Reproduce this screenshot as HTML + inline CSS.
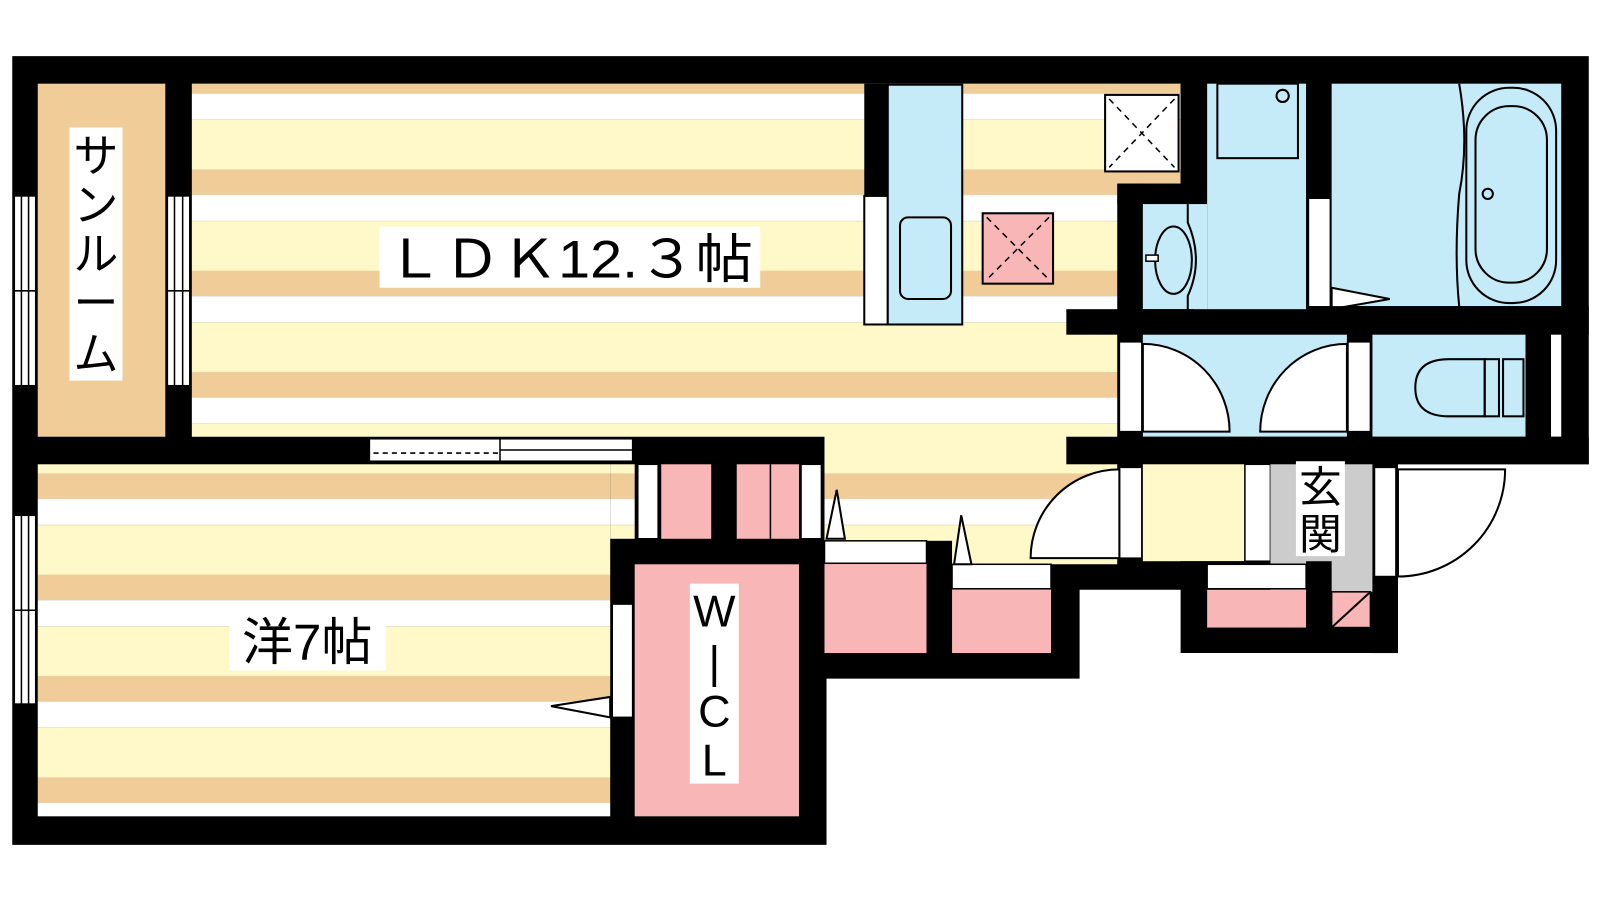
<!DOCTYPE html>
<html><head><meta charset="utf-8"><style>html,body{margin:0;padding:0;background:#fff}svg{display:block}</style></head>
<body>
<svg width="1600" height="900" viewBox="0 0 1568 882" xmlns="http://www.w3.org/2000/svg" font-family="'Liberation Sans','Noto Sans CJK JP',sans-serif">
<defs>
<pattern id="st" patternUnits="userSpaceOnUse" x="0" y="166" width="20" height="99.3">
<rect x="0" y="0" width="20" height="25" fill="#f0cd98"/>
<rect x="0" y="25" width="20" height="25.5" fill="#ffffff"/>
<rect x="0" y="50.5" width="20" height="48.8" fill="#fff9c9"/>
</pattern>
</defs>
<rect width="1568" height="882" fill="#fff"/>
<!-- building black -->
<polygon points="12,55 1557,55 1557,455 1370,455 1370,640 1157,640 1157,578 1058,578 1058,665 810,665 810,828 12,828" fill="#000"/>
<!-- sunroom -->
<rect x="37" y="82" width="125" height="346" fill="#f0cd98"/>
<!-- LDK -->
<polygon points="188,82 1157,82 1157,180 1095,180 1095,553 808,553 808,428 188,428" fill="url(#st)"/>
<!-- kitchen -->
<rect x="847" y="82" width="23" height="110" fill="#000"/>
<rect x="847" y="192" width="23" height="126" fill="#fff" stroke="#000" stroke-width="2"/>
<rect x="870" y="83" width="73" height="235" fill="#c5eaf8" stroke="#000" stroke-width="2"/>
<rect x="882" y="213" width="50" height="80" rx="8" fill="#c5eaf8" stroke="#000" stroke-width="2"/>
<rect x="1083" y="93" width="72" height="75" fill="#fff" stroke="#000" stroke-width="2"/>
<path d="M1087,97 L1151,164 M1151,97 L1087,164" stroke="#000" stroke-width="1.5" stroke-dasharray="6,5"/>
<rect x="963" y="209" width="69" height="69" fill="#f8b6b6" stroke="#000" stroke-width="2"/>
<path d="M967,213 L1028,274 M1028,213 L967,274" stroke="#000" stroke-width="1.5" stroke-dasharray="6,5"/>
<!-- bathroom walls -->
<rect x="1157" y="82" width="26" height="118" fill="#000"/>
<rect x="1095" y="180" width="88" height="20" fill="#000"/>
<rect x="1095" y="180" width="25" height="375" fill="#000"/>
<!-- washroom -->
<rect x="1183" y="82" width="97" height="221" fill="#c5eaf8"/>
<rect x="1120" y="200" width="63" height="103" fill="#c5eaf8"/>
<rect x="1193" y="82" width="79" height="73" fill="none" stroke="#000" stroke-width="2"/>
<circle cx="1257" cy="94" r="6" fill="none" stroke="#000" stroke-width="2"/>
<path d="M1164,200 L1164,218 Q1180,255 1164,290 L1164,303" fill="none" stroke="#000" stroke-width="2"/>
<ellipse cx="1150" cy="255" rx="18" ry="33" fill="none" stroke="#000" stroke-width="2"/>
<rect x="1123" y="250" width="12" height="6" fill="#fff" stroke="#000" stroke-width="1.5"/>
<rect x="1280" y="82" width="25" height="221" fill="#000"/>
<rect x="1283" y="195" width="20" height="105" fill="#fff"/>
<!-- bath -->
<rect x="1305" y="82" width="225" height="218" fill="#c5eaf8"/>
<path d="M1305,282 L1362,293 L1305,303 Z" fill="#fff" stroke="#000" stroke-width="2"/>
<path d="M1430,82 Q1440,140 1430,190 Q1425,250 1430,300" fill="none" stroke="#000" stroke-width="2"/>
<rect x="1437" y="86" width="88" height="211" rx="42" fill="none" stroke="#000" stroke-width="2"/>
<rect x="1446" y="104" width="70" height="173" rx="33" fill="none" stroke="#000" stroke-width="2"/>
<circle cx="1458" cy="190" r="5" fill="none" stroke="#000" stroke-width="2"/>
<!-- walls 303-328 -->
<rect x="1045" y="303" width="125" height="25" fill="#000"/>
<rect x="1280" y="300" width="277" height="28" fill="#000"/>
<!-- hall -->
<rect x="1120" y="328" width="200" height="100" fill="#c5eaf8"/>
<rect x="1097" y="335" width="22" height="88" fill="#fff" stroke="#000" stroke-width="1.5"/>
<path d="M1120,337 A85,86 0 0 1 1205,423 L1120,423 Z" fill="#fff" stroke="#000" stroke-width="2"/>
<rect x="1320" y="328" width="25" height="100" fill="#000"/>
<rect x="1321" y="335" width="22" height="88" fill="#fff" stroke="#000" stroke-width="1.5"/>
<path d="M1320,337 A85,86 0 0 0 1235,423 L1320,423 Z" fill="#fff" stroke="#000" stroke-width="2"/>
<!-- toilet -->
<rect x="1345" y="328" width="150" height="100" fill="#c5eaf8"/>
<rect x="1520" y="328" width="10" height="100" fill="#fff"/>
<path d="M1455,352 L1420,352 Q1387,352 1387,380 Q1387,408 1420,408 L1455,408 Z" fill="none" stroke="#000" stroke-width="2"/>
<rect x="1455" y="352" width="14" height="56" fill="none" stroke="#000" stroke-width="2"/>
<rect x="1473" y="352" width="20" height="56" fill="none" stroke="#000" stroke-width="2"/>
<rect x="1045" y="428" width="512" height="27" fill="#000"/>
<!-- entrance -->
<rect x="1097" y="458" width="22" height="89" fill="#fff" stroke="#000" stroke-width="1.5"/>
<path d="M1097,460 A87,87 0 0 0 1010,547 L1097,547 Z" fill="#fff" stroke="#000" stroke-width="2"/>
<rect x="1120" y="455" width="100" height="95" fill="#fff9c9"/>
<rect x="1220" y="455" width="25" height="95" fill="#fff" stroke="#000" stroke-width="1.5"/>
<rect x="1245" y="455" width="100" height="125" fill="#cccccc"/>
<rect x="1345" y="455" width="25" height="185" fill="#000"/>
<rect x="1347" y="458" width="21" height="107" fill="#fff" stroke="#000" stroke-width="1.5"/>
<path d="M1370,460 L1475,460 A105,105 0 0 1 1370,565 Z" fill="#fff" stroke="#000" stroke-width="2"/>
<rect x="1157" y="550" width="88" height="28" fill="#000"/>
<rect x="1183" y="553" width="97" height="24" fill="#fff" stroke="#000" stroke-width="1.5"/>
<rect x="1183" y="578" width="97" height="37" fill="#f8b6b6"/>
<rect x="1280" y="550" width="25" height="65" fill="#000"/>
<rect x="1305" y="580" width="38" height="35" fill="#f8b6b6" stroke="#000" stroke-width="1.5"/>
<path d="M1305,615 L1343,580" stroke="#000" stroke-width="2"/>
<!-- middle storage -->
<rect x="808" y="550" width="100" height="90" fill="#f8b6b6"/>
<rect x="808" y="530" width="100" height="22" fill="#fff" stroke="#000" stroke-width="1.5"/>
<rect x="908" y="530" width="25" height="110" fill="#000"/>
<rect x="933" y="577" width="97" height="63" fill="#f8b6b6"/>
<rect x="933" y="553" width="97" height="24" fill="#fff" stroke="#000" stroke-width="1.5"/>
<path d="M810,528 L820,480 L828,528 Z" fill="#fff" stroke="#000" stroke-width="2"/>
<path d="M935,553 L942,505 L952,553 Z" fill="#fff" stroke="#000" stroke-width="2"/>
<!-- upper closets -->
<rect x="625" y="455" width="20" height="73" fill="#fff" stroke="#000" stroke-width="1.5"/>
<rect x="648" y="455" width="49" height="73" fill="#f8b6b6"/>
<rect x="722" y="455" width="61" height="73" fill="#f8b6b6"/>
<line x1="755" y1="455" x2="755" y2="528" stroke="#000" stroke-width="1.5"/>
<rect x="785" y="455" width="20" height="73" fill="#fff" stroke="#000" stroke-width="1.5"/>
<!-- 洋 -->
<rect x="37" y="455" width="561" height="345" fill="url(#st)"/>
<rect x="598" y="455" width="24" height="73" fill="url(#st)"/>
<!-- WIC -->
<rect x="622" y="553" width="161" height="247" fill="#f8b6b6"/>
<rect x="600" y="592" width="20" height="111" fill="#fff" stroke="#000" stroke-width="1.5"/>
<path d="M598,683 L540,692 L598,703 Z" fill="#fff" stroke="#000" stroke-width="2"/>
<!-- sliding door -->
<rect x="362" y="430" width="258" height="22" fill="#fff" stroke="#000" stroke-width="1.5"/>
<line x1="490" y1="430" x2="490" y2="452" stroke="#000" stroke-width="1.5"/>
<line x1="366" y1="444" x2="488" y2="444" stroke="#000" stroke-width="1.5" stroke-dasharray="5,4"/>
<line x1="490" y1="441" x2="620" y2="441" stroke="#000" stroke-width="1.5"/>
<!-- windows -->
<g fill="#fff" stroke="#000" stroke-width="1.5">
<rect x="14" y="192" width="21" height="186"/>
<rect x="164" y="192" width="22" height="186"/>
<rect x="14" y="505" width="21" height="185"/>
</g>
<g stroke="#000" stroke-width="1.5">
<line x1="21" y1="192" x2="21" y2="378"/><line x1="28" y1="192" x2="28" y2="378"/>
<line x1="171" y1="192" x2="171" y2="378"/><line x1="179" y1="192" x2="179" y2="378"/>
<line x1="21" y1="505" x2="21" y2="690"/><line x1="28" y1="505" x2="28" y2="690"/>
<line x1="14" y1="285" x2="35" y2="285"/><line x1="164" y1="285" x2="186" y2="285"/>
<line x1="14" y1="598" x2="35" y2="598"/>
</g>
<!-- labels -->
<rect x="68" y="125" width="52" height="248" fill="#fff"/>
<text font-size="44" text-anchor="middle" fill="#000"><tspan x="94" y="168">サ</tspan><tspan x="94" y="216">ン</tspan><tspan x="94" y="264">ル</tspan><tspan x="94" y="312">ー</tspan><tspan x="94" y="362">ム</tspan></text>
<rect x="372" y="222" width="373" height="60" fill="#fff"/>
<text x="558" y="272" font-size="52" text-anchor="middle" fill="#000" textLength="360" lengthAdjust="spacingAndGlyphs">ＬＤＫ12.３帖</text>
<rect x="225" y="597" width="153" height="60" fill="#fff"/>
<text x="301" y="647" font-size="50" text-anchor="middle" fill="#000">洋7帖</text>
<rect x="676" y="572" width="48" height="196" fill="#fff"/>
<text font-size="44" text-anchor="middle" fill="#000"><tspan x="700" y="614">W</tspan><tspan x="700" y="664">|</tspan><tspan x="700" y="712">C</tspan><tspan x="700" y="760">L</tspan></text>
<rect x="1270" y="452" width="48" height="93" fill="#fff"/>
<text font-size="42" text-anchor="middle" fill="#000"><tspan x="1294" y="492">玄</tspan><tspan x="1294" y="538">関</tspan></text>
</svg>
</body></html>
